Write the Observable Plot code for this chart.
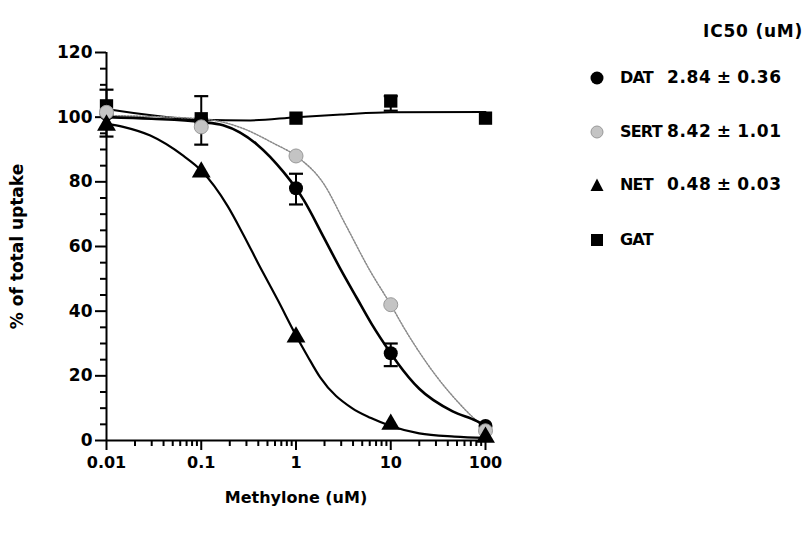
<!DOCTYPE html>
<html><head><meta charset="utf-8">
<script src="https://cdn.jsdelivr.net/npm/d3@7"></script>
<script src="https://cdn.jsdelivr.net/npm/@observablehq/plot@0.6"></script>
<style>
body{margin:0;background:#fff;}
#wrap{position:relative;width:810px;height:536px;font-family:"DejaVu Sans",sans-serif;font-weight:bold;}
.lg{position:absolute;font-size:16px;color:#000;white-space:nowrap;line-height:20px;}
</style></head>
<body><div id="wrap"></div>
<script>
// ---- data ----
const doses = [0.01, 0.1, 1, 10, 100];
const datMean  = [101, 99, 78, 27, 4.5];
const sertMean = [101.5, 97, 88, 42, 3];
const netMean  = [97.5, 83, 32, 5, 1];
const gatMean  = [103.5, 99.5, 99.7, 105, 99.7];

// error bars: dose, low, high
const errDose = [0.01, 0.1, 1, 10, 10];
const errLow  = [94, 91.5, 73, 23, 102];
const errHigh = [108.5, 106.5, 82.5, 30, 106.5];

// fitted curves
const datCurveX  = [0.01, 0.03, 0.1, 0.17, 0.39, 0.74, 1, 1.2, 1.95, 2.95, 4.4, 6.3, 10, 11.8, 20, 45, 81, 100];
const datCurveY  = [100, 99.5, 98.5, 97.5, 91.5, 83, 78, 74.5, 63, 53, 44, 36, 27, 24, 16, 9, 6, 4.5];
const sertCurveX = [0.01, 0.1, 0.26, 0.58, 1, 1.95, 3.33, 6.1, 10, 13.7, 31, 58, 100];
const sertCurveY = [100.5, 99.5, 96.8, 91.9, 88, 79.5, 66.8, 52.3, 42, 35, 19.5, 10.2, 3.5];
const netCurveX  = [0.01, 0.015, 0.029, 0.065, 0.1, 0.19, 0.28, 0.42, 0.64, 1, 1.33, 1.8, 3.9, 6.1, 10, 20, 47, 100];
const netCurveY  = [98, 97, 94.3, 88, 83.5, 72.5, 63.5, 53.5, 43.5, 32.5, 26, 19.5, 10, 7, 4.5, 2.2, 1.2, 0.8];
const gatCurveX  = [0.01, 0.1, 0.33, 1, 3, 10, 100];
const gatCurveY  = [102.5, 99.2, 99, 100, 100.8, 101.5, 101.6];

const yTicks = [0, 20, 40, 60, 80, 100, 120];
const yMinor = [5,10,15,25,30,35,45,50,55,65,70,75,85,90,95,105,110,115];
const xTicks = [0.01, 0.1, 1, 10, 100];
const xTickLabels = ["0.01", "0.1", "1", "10", "100"];
const xMinorMult = [2, 3, 4, 5, 6, 7, 8, 9];
const xDecades = [0.01, 0.1, 1, 10];

const legendNames = ["DAT", "SERT", "NET", "GAT"];
const legendIC50  = ["2.84 \u00b1 0.36", "8.42 \u00b1 1.01", "0.48 \u00b1 0.03", ""];

// ---- build tables ----
const xMinor = xMinorMult.flatMap(m => xDecades.map(d => +(m * d).toPrecision(3)));
const pts = (means) => doses.map((x, i) => ({x, y: means[i]}));
const crv = (xs, ys) => xs.map((x, i) => ({x, y: ys[i]}));
const errs = errDose.map((x, i) => ({x, lo: errLow[i], hi: errHigh[i]}));

const capSymbol = {draw(ctx, size) { const w = 7; ctx.moveTo(-w, 0); ctx.lineTo(w, 0); }};
const sertFill = "#c4c4c4";
const crvType = "monotone-x";

const chart = Plot.plot({
  width: 810, height: 536,
  marginLeft: 106, marginRight: 325, marginTop: 52, marginBottom: 96,
  style: {fontFamily: "DejaVu Sans", fontWeight: "bold", fontSize: "16px", color: "#000", background: "#fff"},
  x: {type: "log", domain: [0.01, 100]},
  y: {domain: [0, 120]},
  marks: [
    Plot.axisY({ticks: yMinor, tickSize: 6, tickFormat: () => "", strokeWidth: 2, label: null}),
    Plot.axisY({ticks: yTicks, tickSize: 11, tickPadding: 3, strokeWidth: 2,
      label: "% of total uptake", labelAnchor: "center", labelArrow: "none", labelOffset: 96, fontSize: 17}),
    Plot.axisX({ticks: xMinor, tickSize: 6, tickFormat: () => "", strokeWidth: 2, label: null}),
    Plot.axisX({ticks: xTicks, tickSize: 10, tickPadding: 6, strokeWidth: 2,
      tickFormat: d => xTickLabels[xTicks.indexOf(d)],
      label: "Methylone (uM)", labelAnchor: "center", labelArrow: "none", labelOffset: 62}),
    Plot.ruleX([0.01], {strokeWidth: 2}),
    Plot.ruleY([0], {strokeWidth: 2}),
    // curves
    Plot.line(crv(gatCurveX, gatCurveY), {x: "x", y: "y", curve: crvType, strokeWidth: 2}),
    Plot.line(crv(sertCurveX, sertCurveY), {x: "x", y: "y", curve: crvType, stroke: "#888", strokeWidth: 1.5, strokeDasharray: "1.5,1.5"}),
    Plot.line(crv(datCurveX, datCurveY), {x: "x", y: "y", curve: crvType, strokeWidth: 2.6}),
    Plot.line(crv(netCurveX, netCurveY), {x: "x", y: "y", curve: crvType, strokeWidth: 2.2}),
    // error bars
    Plot.ruleX(errs, {x: "x", y1: "lo", y2: "hi", strokeWidth: 2}),
    Plot.dot(errs, {x: "x", y: "lo", symbol: capSymbol, stroke: "#000", strokeWidth: 2.2}),
    Plot.dot(errs, {x: "x", y: "hi", symbol: capSymbol, stroke: "#000", strokeWidth: 2.2}),
    // points
    Plot.dot(pts(gatMean), {x: "x", y: "y", symbol: "square", r: 7.5, fill: "#000"}),
    Plot.dot(pts(datMean), {x: "x", y: "y", symbol: "circle", r: 7, fill: "#000"}),
    Plot.dot(pts(sertMean), {x: "x", y: "y", symbol: "circle", r: 7, fill: sertFill, stroke: "#999", strokeWidth: 1}),
    Plot.dot(pts(netMean), {x: "x", y: "y", symbol: "triangle", r: 7, fill: "#000"})
  ]
});
const wrap = document.getElementById("wrap");
wrap.appendChild(chart);

// ---- legend ----
const head = document.createElement("div");
head.className = "lg"; head.style.left = "703px"; head.style.top = "21px";
head.style.fontSize = "17px"; head.style.letterSpacing = "0.8px";
head.textContent = "IC50 (uM)";
wrap.appendChild(head);
const rowTop = [68, 122, 175, 230];
const symSvg = [
  '<circle cx="8" cy="8" r="6.5" fill="#000"/>',
  '<circle cx="8" cy="8" r="6" fill="' + sertFill + '" stroke="#999"/>',
  '<path d="M8,1.5 L14.5,14 L1.5,14 Z" fill="#000"/>',
  '<rect x="2" y="2" width="12" height="12" fill="#000"/>'
];
legendNames.forEach((n, i) => {
  const s = document.createElement("div");
  s.className = "lg"; s.style.left = "589px"; s.style.top = (rowTop[i] + 2) + "px";
  s.innerHTML = '<svg width="16" height="16">' + symSvg[i] + '</svg>';
  wrap.appendChild(s);
  const t = document.createElement("div");
  t.className = "lg"; t.style.left = "620px"; t.style.top = rowTop[i] + "px";
  t.style.letterSpacing = "-0.8px";
  t.textContent = n;
  wrap.appendChild(t);
  if (legendIC50[i]) {
    const v = document.createElement("div");
    v.className = "lg"; v.style.left = "667px"; v.style.top = (rowTop[i] - 1) + "px";
    v.style.fontSize = "17px"; v.style.letterSpacing = "0.6px"; v.style.wordSpacing = "-1px";
    v.textContent = legendIC50[i];
    wrap.appendChild(v);
  }
});
</script>
</body></html>
